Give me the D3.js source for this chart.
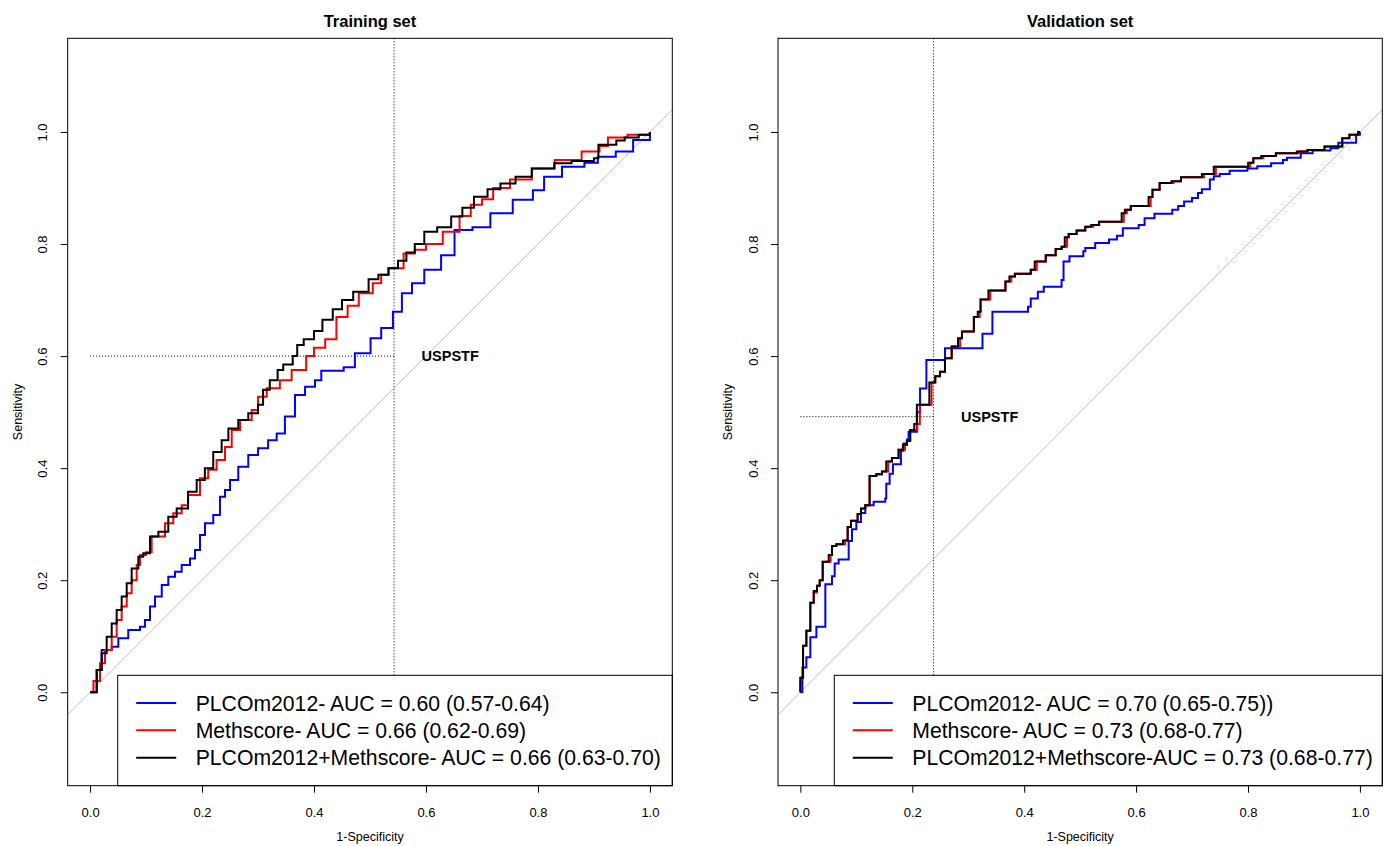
<!DOCTYPE html>
<html>
<head>
<meta charset="utf-8">
<script src="https://cdn.jsdelivr.net/npm/d3@7"></script>
<style>
  body { margin: 0; background: #fff; }
  svg { font-family: "Liberation Sans", Arial, Helvetica, sans-serif; }
</style>
</head>
<body>
<svg width="1389" height="846"></svg>
<script>
// tick values shared by both panels
var xTicks = [0, 0.2, 0.4, 0.6, 0.8, 1.0];
var yTicks = [0, 0.2, 0.4, 0.6, 0.8, 1.0];

var panelTitles = ['Training set', 'Validation set'];
var cutFpr = [0.543, 0.238];   // USPSTF 1-specificity
var cutSens = [0.60, 0.492];   // USPSTF sensitivity
var cutLabel = 'USPSTF';

var trainLegend = [
  'PLCOm2012- AUC = 0.60 (0.57-0.64)',
  'Methscore- AUC = 0.66 (0.62-0.69)',
  'PLCOm2012+Methscore- AUC = 0.66 (0.63-0.70)'
];
var validLegend = [
  'PLCOm2012- AUC = 0.70 (0.65-0.75))',
  'Methscore- AUC = 0.73 (0.68-0.77)',
  'PLCOm2012+Methscore-AUC = 0.73 (0.68-0.77)'
];
var seriesColors = ['#0000ff', '#ff0000', '#000000'];

// ROC points: [1-specificity, sensitivity], drawn as steps
var trainBlue = [[0,0],[0.0118,0.0398],[0.0207,0.0755],[0.0386,0.0815],[0.0504,0.0964],[0.0682,0.111],
  [0.0891,0.117],[0.098,0.129],[0.107,0.153],[0.116,0.171],[0.128,0.1915],[0.1397,0.206],[0.1517,0.215],
  [0.1636,0.227],[0.1785,0.239],[0.1874,0.254],[0.1963,0.2807],[0.2053,0.3016],[0.22,0.3164],[0.232,0.349],
  [0.241,0.361],[0.25,0.379],[0.2647,0.4026],[0.2826,0.4235],[0.30,0.4355],[0.318,0.45],[0.3333,0.462],
  [0.348,0.492],[0.366,0.5306],[0.384,0.5454],[0.4017,0.557],[0.413,0.574],[0.453,0.58],
  [0.473,0.605],[0.501,0.632],[0.52,0.65],[0.541,0.679],[0.557,0.712],[0.575,0.73],[0.597,0.754],[0.627,0.78],
  [0.651,0.825],[0.683,0.83],[0.715,0.855],[0.755,0.879],[0.791,0.896],[0.811,0.92],[0.843,0.938],[0.883,0.945],
  [0.907,0.956],[0.939,0.965],[0.97,0.9857],[1,1]];

var trainRed = [[0,0],[0.006,0.02],[0.0177,0.0517],[0.0266,0.0755],[0.0386,0.0993],[0.0475,0.129],
  [0.0564,0.153],[0.0654,0.1767],[0.0743,0.2],[0.0832,0.227],[0.0891,0.245],[0.10,0.25],[0.11,0.278],
  [0.1338,0.3016],[0.1486,0.3195],[0.1636,0.334],[0.175,0.352],[0.1963,0.382],[0.211,0.397],[0.226,0.4146],
  [0.241,0.438],[0.253,0.468],[0.268,0.486],[0.2887,0.504],[0.30,0.5276],[0.3155,0.5426],[0.339,0.557],
  [0.36,0.575],[0.386,0.60],[0.40,0.615],
  [0.42,0.63],[0.44,0.67],[0.46,0.69],[0.48,0.712],[0.505,0.73],[0.52,0.745],[0.533,0.757],[0.56,0.783],
  [0.58,0.79],[0.60,0.80],[0.63,0.822],[0.66,0.85],[0.68,0.87],[0.70,0.88],[0.72,0.90],[0.75,0.915],
  [0.789,0.935],[0.83,0.95],[0.878,0.965],[0.91,0.975],[0.925,0.99],[0.96,0.995],[1,1]];

var trainBlack = [[0,0],[0.0118,0.0398],[0.0207,0.0696],[0.0296,0.0993],[0.0386,0.123],[0.0475,0.147],
  [0.0564,0.171],[0.0654,0.1945],[0.0743,0.221],[0.0862,0.242],[0.095,0.248],[0.107,0.278],[0.122,0.2866],
  [0.1397,0.3134],[0.1547,0.328],[0.175,0.358],[0.1904,0.379],[0.205,0.40],[0.22,0.429],[0.235,0.45],
  [0.247,0.471],[0.2647,0.486],[0.2826,0.498],[0.30,0.513],[0.309,0.54],[0.321,0.557],
  [0.335,0.575],[0.345,0.585],[0.362,0.60],[0.37,0.62],[0.3816,0.63],[0.40,0.645],
  [0.415,0.665],[0.4335,0.6835],[0.45,0.70],[0.47,0.715],[0.4975,0.737],[0.515,0.745],[0.533,0.757],
  [0.55,0.77],[0.565,0.785],[0.58,0.80],[0.597,0.822],[0.62,0.83],[0.645,0.849],[0.665,0.865],[0.6857,0.8846],
  [0.71,0.898],[0.733,0.908],[0.76,0.92],[0.789,0.935],[0.829,0.944],[0.86,0.948],[0.90,0.953],[0.908,0.977],
  [0.94,0.985],[0.955,0.99],[0.98,0.995],[1,1]];

var validBlue = [[0,0],[0.0036,0.0148],[0.0036,0.0444],[0.0107,0.0624],[0.0178,0.0981],[0.0286,0.117],
  [0.0446,0.124],[0.0446,0.193],[0.0565,0.207],[0.0613,0.230],[0.0684,0.237],[0.0863,0.270],[0.0922,0.291],
  [0.1000,0.304],[0.1083,0.320],[0.1160,0.334],[0.1309,0.340],[0.1517,0.346],[0.1535,0.372],[0.1595,0.390],
  [0.1654,0.407],[0.1797,0.431],[0.1845,0.444],[0.1904,0.451],[0.1934,0.465],[0.2082,0.50],[0.2139,0.5424],
  [0.2252,0.593],[0.2584,0.614],[0.3255,0.640],[0.3432,0.679],[0.4068,0.688],[0.4117,0.703],[0.4244,0.715],
  [0.4350,0.724],[0.4668,0.736],[0.4703,0.769],[0.4809,0.778],[0.5057,0.787],[0.5092,0.793],[0.5269,0.802],
  [0.5516,0.808],[0.5657,0.815],[0.5763,0.828],[0.6046,0.834],[0.6152,0.846],[0.6329,0.854],[0.6646,0.861],
  [0.6752,0.868],[0.6858,0.876],[0.7000,0.882],[0.7106,0.891],[0.7176,0.898],[0.7318,0.915],[0.7388,0.921],
  [0.7494,0.925],[0.7671,0.931],[0.7989,0.935],[0.8166,0.939],[0.8413,0.944],[0.8625,0.950],[0.8696,0.954],
  [0.8943,0.962],[0.9155,0.967],[0.9473,0.971],[0.9614,0.981],[0.9932,0.995],[1,1]];

var validRed = [[0,0],[0,0.026],[0.0048,0.083],[0.0107,0.110],[0.0178,0.160],[0.0238,0.178],[0.0297,0.19],
  [0.0345,0.2],[0.0399,0.233],[0.054,0.245],[0.0565,0.261],[0.0643,0.264],[0.080,0.271],[0.0845,0.295],
  [0.0904,0.306],[0.1023,0.318],[0.1083,0.328],[0.116,0.334],[0.1237,0.386],[0.1356,0.389],[0.1458,0.394],
  [0.157,0.412],[0.1636,0.418],[0.1755,0.433],[0.187,0.442],[0.1904,0.449],[0.1963,0.468],[0.209,0.479],
  [0.2135,0.513],[0.2345,0.553],[0.2411,0.564],[0.2496,0.572],[0.2584,0.596],[0.2704,0.617],[0.2855,0.632],
  [0.2888,0.644],[0.3100,0.670],[0.3205,0.679],[0.3220,0.701],[0.3395,0.717],[0.3665,0.733],[0.377,0.742],
  [0.3834,0.747],[0.4117,0.754],[0.4225,0.769],[0.4385,0.780],[0.4562,0.791],[0.4668,0.795],[0.4765,0.812],
  [0.4795,0.818],[0.4937,0.824],[0.5092,0.831],[0.5235,0.834],[0.5339,0.840],[0.578,0.855],[0.5835,0.861],
  [0.5905,0.868],[0.626,0.884],[0.6293,0.897],[0.6420,0.909],[0.667,0.912],[0.6802,0.919],[0.7215,0.925],
  [0.7425,0.938],[0.804,0.945],[0.8095,0.953],[0.8275,0.957],[0.8498,0.962],[0.891,0.965],[0.9063,0.968],
  [0.9367,0.974],[0.9685,0.989],[0.9812,0.995],[0.9968,1.0],[1,1]];

var validBlack = [[0,0],[0,0.026],[0.0048,0.083],[0.0107,0.110],[0.0178,0.160],[0.0238,0.181],[0.0297,0.19],
  [0.0345,0.2],[0.0399,0.233],[0.0506,0.245],[0.0565,0.261],[0.0643,0.264],[0.0761,0.271],[0.0845,0.295],
  [0.0904,0.306],[0.1023,0.318],[0.1083,0.328],[0.116,0.334],[0.1237,0.386],[0.1356,0.389],[0.1458,0.394],
  [0.1535,0.412],[0.1636,0.418],[0.1755,0.433],[0.1832,0.442],[0.1904,0.449],[0.1963,0.468],[0.2035,0.479],
  [0.2082,0.513],[0.2305,0.553],[0.2411,0.564],[0.2496,0.572],[0.2584,0.596],[0.2704,0.617],[0.2817,0.632],
  [0.2888,0.644],[0.3100,0.670],[0.3170,0.679],[0.3220,0.701],[0.3361,0.717],[0.3665,0.733],[0.3736,0.742],
  [0.3834,0.747],[0.4117,0.754],[0.4188,0.769],[0.4385,0.780],[0.4562,0.791],[0.4668,0.795],[0.4725,0.812],
  [0.4795,0.818],[0.4937,0.824],[0.5092,0.831],[0.5198,0.834],[0.5339,0.840],[0.5742,0.855],[0.5799,0.861],
  [0.5905,0.868],[0.6223,0.884],[0.6293,0.897],[0.6420,0.909],[0.6632,0.912],[0.6802,0.919],[0.7176,0.925],
  [0.7388,0.938],[0.8003,0.945],[0.8095,0.953],[0.8236,0.957],[0.8498,0.962],[0.8872,0.965],[0.9063,0.968],
  [0.9367,0.974],[0.9685,0.989],[0.9812,0.995],[0.9968,1.0],[1,1]];

var svg = d3.select('svg');

var panels = [
  { left: 67.7, right: 672.3, title: panelTitles[0], series: [trainBlue, trainRed, trainBlack],
    legend: trainLegend, legendLeft: 117.7, cutX: cutFpr[0], cutY: cutSens[0] },
  { left: 778, right: 1382.3, title: panelTitles[1], series: [validBlue, validRed, validBlack],
    legend: validLegend, legendLeft: 834.3, cutX: cutFpr[1], cutY: cutSens[1] }
];
var plotTop = 38.3, plotBottom = 785.7, legendTop = 675.3;

panels.forEach(function(p, i) {
  var xScale = d3.scaleLinear().domain([-0.04, 1.04]).range([p.left, p.right]);
  var yScale = d3.scaleLinear().domain([-0.1667, 1.1672]).range([plotBottom, plotTop]);

  var g = svg.append('g');
  var clipId = 'clip' + i;
  g.append('clipPath').attr('id', clipId)
    .append('rect')
      .attr('x', p.left).attr('y', plotTop)
      .attr('width', p.right - p.left).attr('height', plotBottom - plotTop);

  var plot = g.append('g').attr('clip-path', 'url(#' + clipId + ')');

  // chance diagonal
  plot.append('line')
    .attr('x1', xScale(-0.04)).attr('y1', yScale(-0.04))
    .attr('x2', xScale(1.04)).attr('y2', yScale(1.04))
    .attr('stroke', '#bebebe').attr('stroke-width', 1);

  // cut-off reference lines
  plot.append('line')
    .attr('x1', xScale(p.cutX)).attr('x2', xScale(p.cutX))
    .attr('y1', plotTop).attr('y2', plotBottom)
    .attr('stroke', '#000').attr('stroke-width', 1).attr('stroke-dasharray', '1,2');
  plot.append('line')
    .attr('x1', xScale(0)).attr('x2', xScale(p.cutX))
    .attr('y1', yScale(p.cutY)).attr('y2', yScale(p.cutY))
    .attr('stroke', '#000').attr('stroke-width', 1).attr('stroke-dasharray', '1,2');

  plot.append('text')
    .attr('x', xScale(p.cutX) + 27.5).attr('y', yScale(p.cutY))
    .attr('dominant-baseline', 'central')
    .style('font-size', '14.5px').style('font-weight', 'bold')
    .text(cutLabel);

  var line = d3.line()
    .x(d => xScale(d[0]))
    .y(d => yScale(d[1]))
    .curve(d3.curveStepAfter);

  p.series.forEach(function(s, k) {
    plot.append('path')
      .attr('d', line(s))
      .attr('fill', 'none')
      .attr('stroke', seriesColors[k])
      .attr('stroke-width', 2)
      .attr('stroke-linejoin', 'miter');
  });

  // legend
  var lg = g.append('g');
  lg.append('rect')
    .attr('x', p.legendLeft).attr('y', legendTop)
    .attr('width', p.right - p.legendLeft).attr('height', plotBottom - legendTop)
    .attr('fill', '#fff').attr('stroke', '#000').attr('stroke-width', 1);
  p.legend.forEach(function(txt, k) {
    var ly = 703 + k * 27.35;
    lg.append('line')
      .attr('x1', p.legendLeft + 18.5).attr('x2', p.legendLeft + 58.5)
      .attr('y1', ly).attr('y2', ly)
      .attr('stroke', seriesColors[k]).attr('stroke-width', 2);
    lg.append('text')
      .attr('x', p.legendLeft + 78).attr('y', ly)
      .attr('dominant-baseline', 'central')
      .style('font-size', '21.2px')
      .text(txt);
  });

  // box
  g.append('rect')
    .attr('x', p.left).attr('y', plotTop)
    .attr('width', p.right - p.left).attr('height', plotBottom - plotTop)
    .attr('fill', 'none').attr('stroke', '#000').attr('stroke-width', 1);

  // axes
  var xAxis = d3.axisBottom(xScale).tickValues(xTicks).tickSize(7).tickFormat(d3.format('.1f'));
  var gx = g.append('g').attr('transform', 'translate(0,' + plotBottom + ')').call(xAxis);
  gx.select('.domain').remove();
  gx.selectAll('text').attr('y', 26.5).attr('dy', null)
    .attr('dominant-baseline', 'central');

  var yAxis = d3.axisLeft(yScale).tickValues(yTicks).tickSize(7).tickFormat(d3.format('.1f'));
  var gy = g.append('g').attr('transform', 'translate(' + p.left + ',0)').call(yAxis);
  gy.select('.domain').remove();
  gy.selectAll('text')
    .attr('transform', 'rotate(-90)')
    .attr('x', 0).attr('y', -25).attr('dy', null)
    .attr('text-anchor', 'middle')
    .attr('dominant-baseline', 'central');
  g.selectAll('.tick text')
    .attr('font-family', null).attr('font-size', null)
    .style('font-size', '13px');

  // titles
  var cx = (p.left + p.right) / 2;
  g.append('text')
    .attr('x', cx).attr('y', 21)
    .attr('text-anchor', 'middle').attr('dominant-baseline', 'central')
    .style('font-size', '16.5px').style('font-weight', 'bold')
    .text(p.title);
  g.append('text')
    .attr('x', cx).attr('y', 837)
    .attr('text-anchor', 'middle').attr('dominant-baseline', 'central')
    .style('font-size', '12.5px')
    .text('1-Specificity');
  g.append('text')
    .attr('transform', 'translate(' + (p.left - 50) + ',' + ((plotTop + plotBottom) / 2) + ') rotate(-90)')
    .attr('text-anchor', 'middle').attr('dominant-baseline', 'central')
    .style('font-size', '12.5px')
    .text('Sensitivity');
});
</script>
</body>
</html>
